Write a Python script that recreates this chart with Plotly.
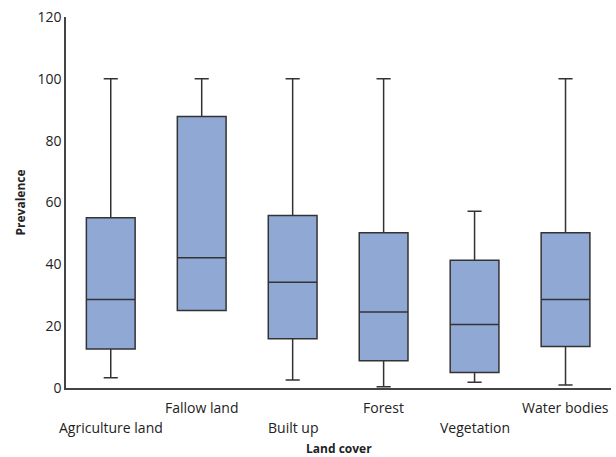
import plotly.graph_objects as go

categories = ["Agriculture land", "Fallow land", "Built up", "Forest", "Vegetation", "Water bodies"]
lower_whisker = [3.3, 25.1, 2.6, 0.4, 1.9, 1.0]
q1_values = [12.6, 25.1, 15.9, 8.8, 5.0, 13.4]
median_values = [28.6, 42.1, 34.2, 24.6, 20.5, 28.6]
q3_values = [55.1, 87.8, 55.8, 50.2, 41.3, 50.2]
upper_whisker = [100, 100, 100, 100, 57.2, 100]
y_ticks = [0, 20, 40, 60, 80, 100, 120]

FONT = "Open Sans"
TXT = "#222222"

fig = go.Figure()
fig.add_trace(go.Box(
    x=categories,
    q1=q1_values,
    median=median_values,
    q3=q3_values,
    lowerfence=lower_whisker,
    upperfence=upper_whisker,
    fillcolor="#8fa8d4",
    line=dict(color="#333333", width=1.5),
    width=0.536,
    whiskerwidth=0.29,
    boxpoints=False,
    showlegend=False,
    hoverinfo="skip",
))

# staggered category labels
for i, cat in enumerate(categories):
    fig.add_annotation(
        x=cat, xref="x", y=0, yref="paper",
        text=cat, showarrow=False,
        yanchor="top", xanchor="center",
        yshift=-8 if i % 2 == 1 else -28,
        font=dict(family=FONT, size=14, color=TXT),
    )

# axis titles
fig.add_annotation(
    x=0.5, xref="paper", y=0, yref="paper",
    text="<b>Land cover</b>", showarrow=False,
    yanchor="middle", xanchor="center", yshift=-60,
    font=dict(family=FONT, size=12, color=TXT),
)
fig.add_annotation(
    x=0, xref="paper", y=0.5, yref="paper",
    text="<b>Prevalence</b>", showarrow=False, textangle=-90,
    yanchor="middle", xanchor="center", xshift=-46,
    font=dict(family=FONT, size=12, color=TXT),
)

fig.update_layout(
    width=616, height=457,
    margin=dict(l=66, r=5, t=17, b=69),
    paper_bgcolor="white", plot_bgcolor="white",
    font=dict(family=FONT, size=14, color=TXT),
    xaxis=dict(
        type="category",
        range=[-0.492, 5.5],
        showticklabels=False,
        showline=True, linecolor="#444444", linewidth=1.5,
        showgrid=False, zeroline=False, ticks="",
        automargin=False,
    ),
    yaxis=dict(
        range=[0, 120],
        tickvals=y_ticks,
        showline=True, linecolor="#444444", linewidth=1.5,
        showgrid=False, zeroline=False, ticks="",
        tickfont=dict(family=FONT, size=14, color=TXT),
        automargin=False,
    ),
)

fig.write_html(
    "out.html",
    config={"displayModeBar": False},
    post_script="document.body.style.margin='0';document.body.style.overflow='hidden';",
)
